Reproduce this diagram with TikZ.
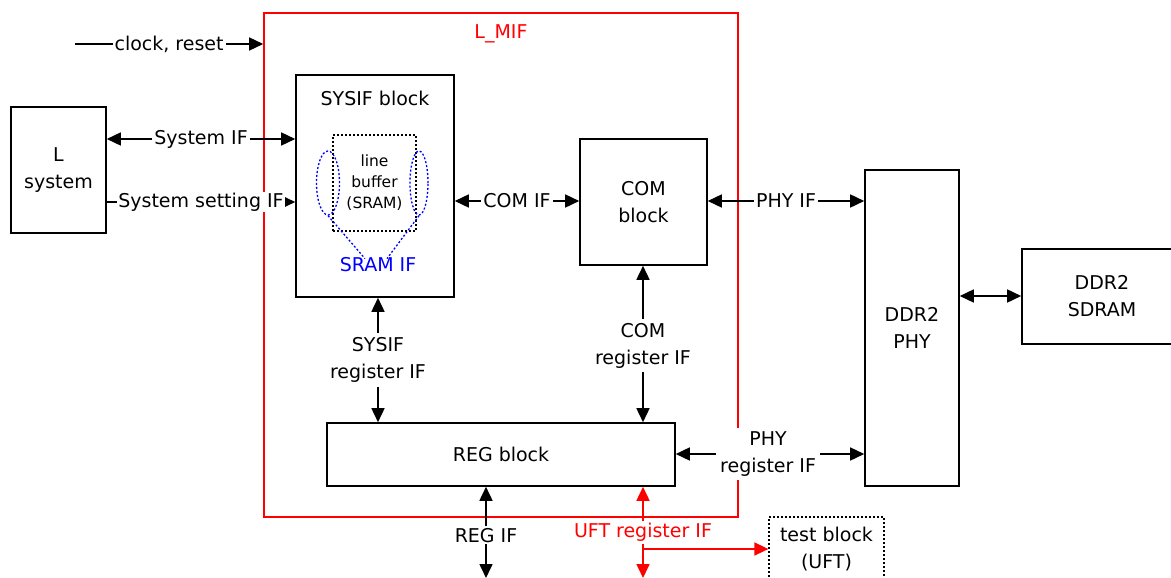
\documentclass[tikz,border=0pt]{standalone}
\usepackage{fontspec}
\setmainfont{DejaVu Sans}
\usetikzlibrary{arrows.meta,shapes.geometric,calc}
\tikzset{bigtri/.tip={Triangle[length=14pt,width=13pt]}}
\begin{document}
\begin{tikzpicture}[x=1pt,y=-1pt,
  every node/.style={font=\fontsize{19}{27}\selectfont, align=center},
  blk/.style={draw, line width=1.6pt, inner sep=0pt, rectangle},
  dotbox/.style={draw, line width=1.3pt, dash pattern=on 2pt off 2pt, inner sep=0pt, rectangle},
  lbl/.style={fill=white, inner sep=2pt},
  conn/.style={line width=1.6pt},
  both/.style={conn, bigtri-bigtri},
  fwd/.style={conn, -bigtri},
  sramline/.style={draw=blue, line width=1.3pt, dash pattern=on 2pt off 2pt}
]
\clip (0,0) rectangle (1171,578);
\fill[white] (0,0) rectangle (1171,578);

% containers and blocks
\node[blk, draw=red, minimum width=474pt, minimum height=504pt] (lmif) at (501,265) {};
\node[text=red] (lmiftitle) at (501,34) {L\_MIF};
\node[blk, minimum width=95pt, minimum height=126pt] (lsys) at (58.5,170) {L\\system};
\node[blk, minimum width=158pt, minimum height=222pt] (sysif) at (375,186) {};
\node (sysiftitle) at (375,98) {SYSIF block};
\node[dotbox, minimum width=83pt, minimum height=96pt, font=\fontsize{15.5}{21}\selectfont] (lbuf) at (374.5,183) {line\\buffer\\(SRAM)};
\node[ellipse, sramline, minimum width=23pt, minimum height=64pt, inner sep=0pt] (elL) at (328,183) {};
\node[ellipse, sramline, minimum width=18pt, minimum height=64pt, inner sep=0pt] (elR) at (419,183) {};
\node[text=blue, inner sep=1pt] (sramif) at (378,265) {SRAM IF};
\draw[sramline] (elL.south) -- ($(sramif.north)+(-13,2)$);
\draw[sramline] (elR.south) -- ($(sramif.north)+(9,2)$);

\node[blk, minimum width=127pt, minimum height=126pt] (com) at (643.5,202) {COM\\block};
\node[blk, minimum width=94pt, minimum height=316pt] (phy) at (912,328) {DDR2\\PHY};
\node[blk, minimum width=160pt, minimum height=95pt] (sdram) at (1102,296.5) {DDR2\\SDRAM};
\node[blk, minimum width=348pt, minimum height=63pt] (reg) at (501,454.5) {REG block};
\node[dotbox, minimum width=115pt, minimum height=64pt] (test) at (826.5,549) {test block\\(UFT)};

% helper coordinates
\coordinate (clk) at (75,44);
\coordinate (ySys) at (0,139);
\coordinate (ySet) at (0,202);
\coordinate (yCom) at (0,201);
\coordinate (yDdr) at (0,296);
\coordinate (yPreg) at (0,454);
\coordinate (xSreg) at (378,0);
\coordinate (xCreg) at (643,0);
\coordinate (regifEnd) at (486,578);
\coordinate (uftEnd) at (643,578);
\coordinate (branch) at (643,549);

% connectors
\draw[fwd] (clk) -- node[lbl] {clock, reset} (lmif.west |- clk);
\draw[both] (lsys.east |- ySys) -- node[lbl] {System IF} (sysif.west |- ySys);
\draw[fwd] (lsys.east |- ySet) -- node[lbl, inner sep=1pt] {System setting IF} (sysif.west |- ySet);
\draw[both] (sysif.east |- yCom) -- node[lbl] {COM IF} (com.west |- yCom);
\draw[both] (com.east |- yCom) -- node[lbl] {PHY IF} (phy.west |- yCom);
\draw[both] (phy.east |- yDdr) -- (sdram.west |- yDdr);
\draw[both] (xSreg |- sysif.south) -- node[lbl, inner sep=4pt] {SYSIF\\register IF} (xSreg |- reg.north);
\draw[both] (xCreg |- com.south) -- node[lbl, inner sep=4pt, pos=0.51] {COM\\register IF} (xCreg |- reg.north);
\draw[both] (reg.east |- yPreg) -- node[lbl, inner sep=4pt, pos=0.49] {PHY\\register IF} (phy.west |- yPreg);
\draw[both] (regifEnd |- reg.south) -- node[lbl, pos=0.53] {REG IF} (regifEnd);
\draw[both, red] (uftEnd |- reg.south) -- node[lbl, text=red, pos=0.5] {UFT register IF} (uftEnd);
\draw[fwd, red] (branch) -- (test.west |- branch);
\end{tikzpicture}
\end{document}
